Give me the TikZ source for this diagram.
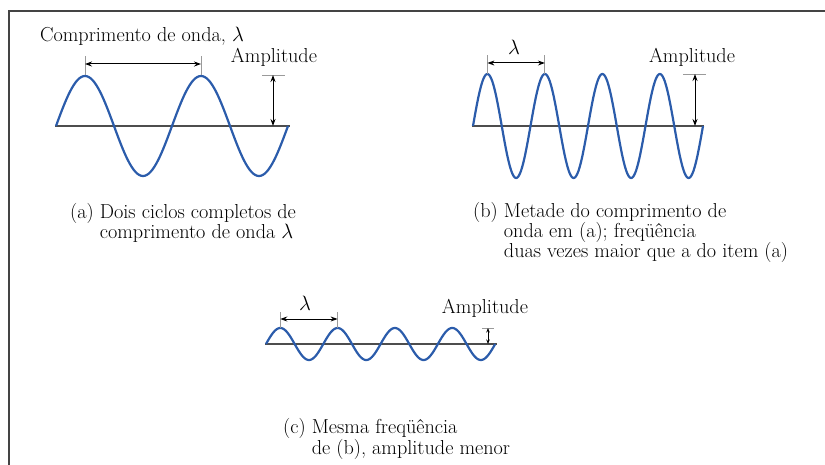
\documentclass[tikz,border=0pt]{standalone}
\usetikzlibrary{arrows.meta}
\definecolor{wvblue}{HTML}{2B5CAB}
\definecolor{wvaxis}{HTML}{4D4D4D}
\definecolor{wvtick}{HTML}{9A9A9A}
\definecolor{wvframe}{HTML}{444444}
\newcommand\wvfont{\fontsize{20.2}{20.2}\selectfont}
\tikzset{
  wave/.style={wvblue, line width=2.2pt, line join=round},
  axisline/.style={wvaxis, line width=1.3pt},
  tickline/.style={wvtick, line width=0.9pt},
  dimarr/.style={{Stealth[length=7pt,width=5pt]}-{Stealth[length=7pt,width=5pt]}, line width=1pt, black},
  smallarr/.style={{Stealth[length=4.5pt,width=3.5pt]}-{Stealth[length=4.5pt,width=3.5pt]}, line width=0.9pt, black},
  lbl/.style={font=\wvfont, inner sep=0pt},
  caption/.style={lbl, align=left, anchor=base west},
}

\begin{document}
\begin{tikzpicture}[x=1pt, y=-1pt]
  \useasboundingbox (0,0) rectangle (825,465);
  \draw[wvframe, line width=2pt] (8.5,465) -- (8.5,11) -- (825,11);

  % (a) two full cycles
  \draw[axisline] (55,126) -- (290,126);
  \draw[wave] plot[domain=0:720, samples=121, smooth] ({56+\x/360*116}, {126-50*sin(\x)});
  \coordinate (pa1) at (85,75);
  \coordinate (pa2) at (201,75);
  \draw[tickline] (pa1) -- ++(0,-19);
  \draw[tickline] (pa2) -- ++(0,-19);
  \draw[dimarr] ([yshift=11pt]pa1) -- ([yshift=11pt]pa2);
  \coordinate (ampa) at (273,75);
  \coordinate (basea) at (273,126);
  \draw[tickline] ([xshift=-11pt]ampa) -- ([xshift=12pt]ampa);
  \draw[dimarr] (ampa) -- (basea);
  \node[lbl] (lama) at (142,36) {Comprimento de onda, $\lambda$};
  \node[lbl] (ampla) at (274,57) {Amplitude};
  \node[caption] (capa) at (70,239) {(a) Dois ciclos completos de\\\hphantom{(a)~}comprimento de onda $\lambda$};

  % (b) half the wavelength
  \draw[axisline] (472,126) -- (704,126);
  \draw[wave] plot[domain=0:1440, samples=241, smooth] ({473+\x/360*57.5}, {126-52*sin(\x)});
  \coordinate (pb1) at (487.4,74);
  \coordinate (pb2) at (544.9,74);
  \draw[tickline] (pb1) -- ++(0,-19);
  \draw[tickline] (pb2) -- ++(0,-19);
  \draw[dimarr] ([yshift=11pt]pb1) -- ([yshift=11pt]pb2);
  \coordinate (ampb) at (695,74);
  \coordinate (baseb) at (695,126);
  \draw[tickline] ([xshift=-12pt]ampb) -- ([xshift=11pt]ampb);
  \draw[dimarr] (ampb) -- (baseb);
  \node[lbl] (lamb) at (514,47) {$\lambda$};
  \node[lbl] (amplb) at (692,57) {Amplitude};
  \node[caption] (capb) at (473,258) {(b) Metade do comprimento de\\\hphantom{(b)~}onda em (a); freqüência\\\hphantom{(b)~}duas vezes maior que a do item (a)};

  % (c) same frequency, smaller amplitude
  \draw[axisline] (265,344) -- (497,344);
  \draw[wave] plot[domain=0:1440, samples=241, smooth] ({266+\x/360*57.3}, {344-16*sin(\x)});
  \coordinate (pc1) at (280.3,328);
  \coordinate (pc2) at (337.6,328);
  \draw[tickline] (pc1) -- ++(0,-16);
  \draw[tickline] (pc2) -- ++(0,-16);
  \draw[dimarr] ([yshift=9pt]pc1) -- ([yshift=9pt]pc2);
  \coordinate (ampc) at (488,328);
  \coordinate (basec) at (488,344);
  \draw[tickline] ([xshift=-6pt]ampc) -- ([xshift=6pt]ampc);
  \draw[smallarr] (ampc) -- (basec);
  \node[lbl] (lamc) at (305,303) {$\lambda$};
  \node[lbl] (amplc) at (485,308) {Amplitude};
  \node[caption] (capc) at (283,454) {(c) Mesma freqüência\\\hphantom{(c)~}de (b), amplitude menor};
\end{tikzpicture}
\end{document}
